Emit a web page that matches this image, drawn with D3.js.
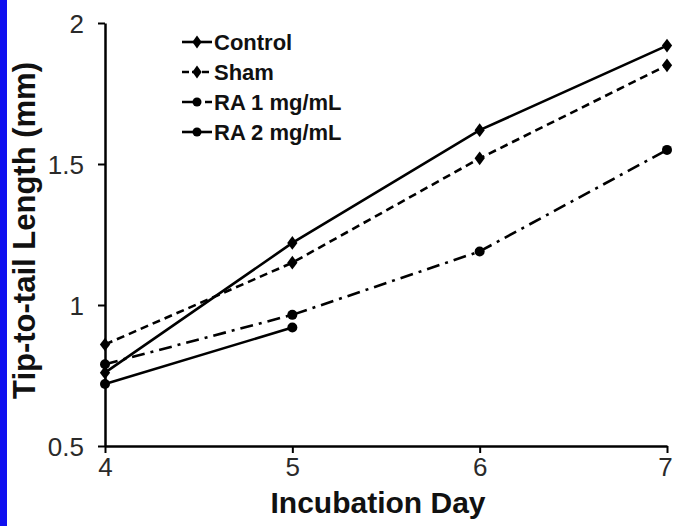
<!DOCTYPE html>
<html>
<head>
<meta charset="utf-8">
<script src="https://cdn.jsdelivr.net/npm/d3@7"></script>
<style>
  body { margin: 0; background: #fff; }
  svg { display: block; font-family: "Liberation Sans", Arial, sans-serif; }
</style>
</head>
<body>
<script>
// data
const days = [4, 5, 6, 7];
const control = [0.76, 1.22, 1.62, 1.92];
const sham = [0.86, 1.15, 1.52, 1.85];
const ra1 = [0.79, 0.965, 1.19, 1.55];
const ra2 = [0.72, 0.92];
const yTicks = [0.5, 1, 1.5, 2];
const seriesNames = ["Control", "Sham", "RA 1 mg/mL", "RA 2 mg/mL"];

const w = 673, h = 526;

const svg = d3.select("body").append("svg")
    .attr("width", w)
    .attr("height", h);

// blue strip on the left edge
svg.append("rect")
    .attr("x", 0).attr("y", 0)
    .attr("width", 7).attr("height", h)
    .attr("fill", "#1010f0");

const x = d3.scaleLinear().domain([4, 7]).range([105, 667]);
const y = d3.scaleLinear().domain([0.5, 2]).range([446, 23]);

const series = [
    { name: seriesNames[0], values: control, dash: null, marker: "diamond" },
    { name: seriesNames[1], values: sham, dash: "8,5", marker: "diamond" },
    { name: seriesNames[2], values: ra1, dash: "13,6,3,6", marker: "circle" },
    { name: seriesNames[3], values: ra2, dash: null, marker: "circle" }
];

// axes
const yAxis = svg.append("g")
    .attr("transform", `translate(${x(4)},0)`)
    .call(d3.axisLeft(y).tickValues(yTicks).tickFormat(d3.format("")).tickSize(7).tickSizeOuter(0));
const xAxis = svg.append("g")
    .attr("transform", `translate(0,${y(0.5)})`)
    .call(d3.axisBottom(x).tickValues(days).tickFormat(d3.format("d")).tickSize(7).tickSizeOuter(0));

[yAxis, xAxis].forEach(g => {
    g.select(".domain").attr("stroke", "#000").attr("stroke-width", 2.5);
    g.selectAll(".tick line").attr("stroke", "#000").attr("stroke-width", 2);
    g.selectAll(".tick text")
        .attr("fill", "#2a2a2a")
        .style("font-size", "26px")
        .style("font-family", "'Liberation Sans', Arial, sans-serif");
});
yAxis.selectAll(".tick text").attr("x", -21).attr("dy", "0.36em");
xAxis.selectAll(".tick text").attr("y", 12);
xAxis.selectAll(".tick").filter(d => d === 7).select("text").attr("dx", -2);

// lines and markers
const line = d3.line()
    .x((d, i) => x(days[i]))
    .y(d => y(d));

const diamond = d3.symbol().type(d3.symbolDiamond).size(75);

series.forEach(s => {
    svg.append("path")
        .datum(s.values)
        .attr("d", line)
        .attr("fill", "none")
        .attr("stroke", "#000")
        .attr("stroke-width", 2.6)
        .attr("stroke-dasharray", s.dash);

    const pts = svg.append("g");
    s.values.forEach((v, i) => {
        if (s.marker === "diamond") {
            pts.append("path")
                .attr("d", diamond())
                .attr("transform", `translate(${x(days[i])},${y(v)}) scale(1.1,0.85)`)
                .attr("fill", "#000");
        } else {
            pts.append("circle")
                .attr("cx", x(days[i])).attr("cy", y(v))
                .attr("r", 5)
                .attr("fill", "#000");
        }
    });
});

// legend
const legend = svg.append("g").attr("transform", "translate(182,42)");
series.forEach((s, i) => {
    const g = legend.append("g").attr("transform", `translate(0,${i * 30})`);
    g.append("line")
        .attr("x1", 0).attr("x2", 30)
        .attr("stroke", "#000")
        .attr("stroke-width", 2.6)
        .attr("stroke-dasharray", s.dash ? (i === 1 ? "7,3" : "12,4,3,4") : null);
    if (s.marker === "diamond") {
        g.append("path")
            .attr("d", diamond())
            .attr("transform", "translate(15,0) scale(1,0.8)")
            .attr("fill", "#000");
    } else {
        g.append("circle").attr("cx", 15).attr("r", 4.5).attr("fill", "#000");
    }
    g.append("text")
        .attr("x", 32).attr("y", 0).attr("dy", "0.36em")
        .style("font-size", "22px")
        .style("font-weight", "bold")
        .attr("fill", "#111")
        .text(s.name);
});

// axis titles
svg.append("text")
    .attr("transform", `translate(35,${(y(0.5) + y(2)) / 2 - 4}) rotate(-90)`)
    .attr("text-anchor", "middle")
    .style("font-size", "31px")
    .style("font-weight", "bold")
    .attr("fill", "#111")
    .text("Tip-to-tail Length (mm)");

svg.append("text")
    .attr("x", 378).attr("y", 513)
    .attr("text-anchor", "middle")
    .style("font-size", "30px")
    .style("font-weight", "bold")
    .attr("fill", "#111")
    .text("Incubation Day");
</script>
</body>
</html>
